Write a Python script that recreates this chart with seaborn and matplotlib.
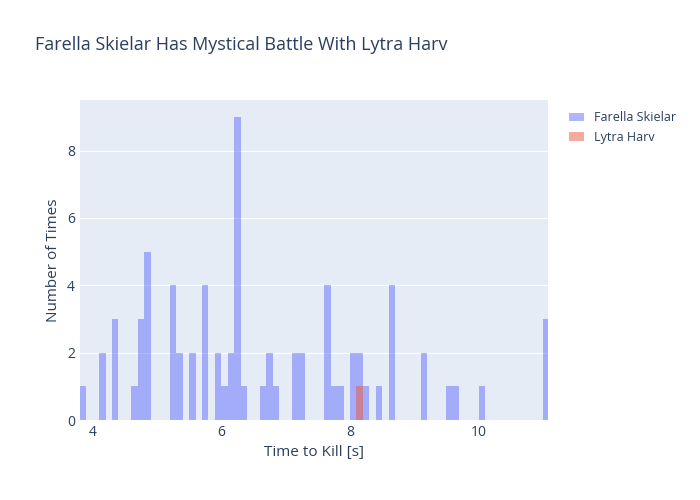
import numpy as np
import pandas as pd
import matplotlib
matplotlib.use("Agg")
import matplotlib.pyplot as plt
import seaborn as sns

# bin start (s) and counts, bins of 0.1 s
farella_bins = [3.8, 4.1, 4.3, 4.6, 4.7, 4.8, 5.2, 5.3, 5.5, 5.7, 5.9, 6.0, 6.1, 6.2, 6.3,
                6.6, 6.7, 6.8, 7.1, 7.2, 7.6, 7.7, 7.8, 8.0, 8.1, 8.2, 8.4, 8.6, 9.1,
                9.5, 9.6, 10.0, 11.0]
farella_counts = [1, 2, 3, 1, 3, 5, 4, 2, 2, 4, 2, 1, 2, 9, 1,
                  1, 2, 1, 2, 2, 4, 1, 1, 2, 2, 1, 1, 4, 2,
                  1, 1, 1, 3]
lytra_bins = [8.1]
lytra_counts = [1]

rows = [(b + 0.05, c, "Farella Skielar") for b, c in zip(farella_bins, farella_counts)]
rows += [(b + 0.05, c, "Lytra Harv") for b, c in zip(lytra_bins, lytra_counts)]
df = pd.DataFrame(rows, columns=["time", "count", "player"])

sns.set_style("darkgrid", {"axes.facecolor": "#e5ecf6", "grid.color": "white"})
plt.rcParams['font.family'] = ['Open Sans', 'DejaVu Sans']

fig = plt.figure(figsize=(7, 5), dpi=100)
ax = fig.add_axes([0.114, 0.16, 0.669, 0.64])
colors = {"Farella Skielar": "#636efa", "Lytra Harv": "#EF553B"}
for name in ["Farella Skielar", "Lytra Harv"]:
    sub = df[df.player == name]
    sns.histplot(data=sub, x="time", weights="count", binwidth=0.1, binrange=(3.8, 11.1),
                 color=colors[name], alpha=0.5, linewidth=0, ax=ax, label=name)

ax.set_xlim(3.8, 11.08)
ax.set_ylim(0, 9.5)
ax.set_xticks([4, 6, 8, 10])
ax.set_yticks([0, 2, 4, 6, 8])
ax.xaxis.grid(False)
ax.tick_params(colors="#2a3f5f", labelsize=10, length=0)
ax.set_xlabel("Time to Kill [s]", color="#2a3f5f", fontsize=11)
ax.set_ylabel("Number of Times", color="#2a3f5f", fontsize=11)
for s in ax.spines.values():
    s.set_visible(False)
fig.text(0.05, 0.9, "Farella Skielar Has Mystical Battle With Lytra Harv", color="#2a3f5f", fontsize=13)
ax.legend(loc="upper left", bbox_to_anchor=(1.02, 1.0), frameon=False, fontsize=9,
          labelcolor="#2a3f5f", handlelength=1.2)
fig.savefig("out.png")
